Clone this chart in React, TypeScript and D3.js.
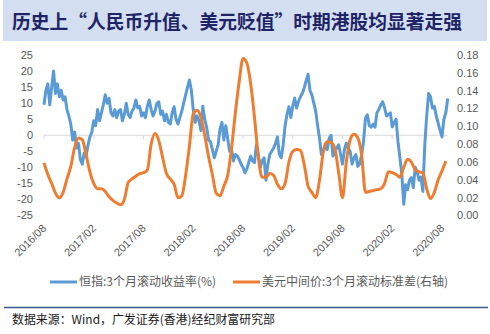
import React from 'react';
import * as d3 from 'd3';

const TITLE = '历史上“人民币升值、美元贬值”时期港股均显著走强';
const SOURCE = '数据来源：Wind，广发证券(香港)经纪财富研究部';
const LEGEND_HSI = '恒指:3个月滚动收益率(%)';
const LEGEND_USD = '美元中间价:3个月滚动标准差(右轴)';

const xTickLabels = ['2016/08', '2017/02', '2017/08', '2018/02', '2018/08', '2019/02', '2019/08', '2020/02', '2020/08'];
const leftTicks = [25, 20, 15, 10, 5, 0, -5, -10, -15, -20, -25];
const rightTicks = [0.18, 0.16, 0.14, 0.12, 0.1, 0.08, 0.06, 0.04, 0.02, 0];

// weekly values from 2016/08 (week 0)
const hsiReturn = [
  9.5, 14, 16, 9.5, 15, 20, 13, 16, 12, 14,
  11, 12, 8, 6, 3.5, -1.5, 1, -4, -2.5, -7.5,
  -9, -5.5, -6.5, -3, -0.5, 1, 4.5, 3, 8, 4.5,
  7, 9.5, 12.6, 10, 11.5, 7, 6, 8, 5.5, 7.5,
  8, 4.5, 6.5, 10, 6.5, 5.5, 7.5, 8.5, 11, 8.5,
  9, 6, 7, 5.5, 9, 11, 8, 6, 7.5, 10,
  10.4, 6.5, 7.5, 4.5, 6.5, 4, 3.5, 7, 8.9, 5,
  3.5, 5.5, 7.5, 10, 12.5, 15, 17.2, 14, 8, 4,
  6, 4.5, 1.5, 9, 5, 2.5, -1.5, -2, -4.5, -7,
  -5, -3, 2, 4, -1.5, 3, -1, -5, -4.5, -8,
  -6, -6.5, -7.5, -9, -10, -11.7, -10.5, -8.5, -6.5, -8,
  -8.5, -3, -6, -10, -8, -7, -14, -9, -6, -5,
  -4, -2.5, -0.5, -6, -7, -3, 3, 6.5, 8.9, 5.5,
  9, 11.6, 8.5, 10.5, 12, 13, 14.8, 17, 19, 14,
  12.6, 10, 7.5, 3, -1, -6, -5, -3, -4.5, -1,
  0, -6.5, -5, -4, -3, -6, -9, -4.5, -2.5, -4,
  -5, -9, -7, -6, -9.7, -9, -6, -2, 5.4, 6.4,
  3, 2.5, 3.5, 2.5, 7, 8, 9.5, 10.4, 8.5, 6,
  6.5, 7, 2.6, 4, 5, -2, -7, -12, -21.5, -15.4,
  -17, -14, -13.2, -16.3, -10, -11.3, -14, -13, -17.5, -3,
  6, 13, 12, 8.5, 9, 6, 3.8, 1.5, -0.5, 5,
  7, 11.5,
];

// bi-weekly values from 2016/08
const usdCnyStd = [
  0.059, 0.046, 0.036, 0.025, 0.020, 0.026, 0.041, 0.055, 0.076, 0.087,
  0.085, 0.068, 0.049, 0.036, 0.030, 0.030, 0.027, 0.021, 0.017, 0.014,
  0.012, 0.018, 0.037, 0.041, 0.044, 0.047, 0.048, 0.051, 0.080, 0.092,
  0.084, 0.065, 0.047, 0.041, 0.035, 0.020, 0.022, 0.045, 0.078, 0.114,
  0.118, 0.110, 0.090, 0.066, 0.046, 0.025, 0.022, 0.033, 0.045, 0.075,
  0.115, 0.150, 0.176, 0.171, 0.148, 0.110, 0.066, 0.043, 0.043, 0.047,
  0.045, 0.035, 0.030, 0.036, 0.060, 0.072, 0.074, 0.073, 0.057, 0.033,
  0.026, 0.020, 0.040, 0.072, 0.083, 0.082, 0.075, 0.048, 0.020, 0.060,
  0.085, 0.091, 0.087, 0.068, 0.026, 0.027, 0.028, 0.029, 0.030, 0.036,
  0.049, 0.048, 0.046, 0.043, 0.054, 0.063, 0.060, 0.051, 0.049, 0.048,
  0.030, 0.019, 0.026, 0.040, 0.050, 0.061,
];

const W = 490;
const H = 334;
const BLUE = '#5b9bd5';
const ORANGE = '#ed7d31';
const AXIS_TEXT = '#595959';

export default function App() {
  const x = d3.scaleLinear().domain([0, 208]).range([44, 442]);
  const yL = d3.scaleLinear().domain([-25, 25]).range([215.5, 55]);
  const yR = d3.scaleLinear().domain([0, 0.18]).range([215.5, 55]);

  const blueLine = d3
    .line<number>()
    .x((_, i) => x(i))
    .y((d) => yL(d))(hsiReturn) as string;
  const orangeLine = d3
    .line<number>()
    .x((_, j) => x(j * 2))
    .y((d) => yR(d))
    .curve(d3.curveMonotoneX)(usdCnyStd) as string;

  const y0 = yL(0);
  const xEnd = x(hsiReturn.length - 1);

  return (
    <svg width={W} height={H} style={{ position: 'absolute', left: 0, top: 0, background: '#fff' }}
      fontFamily="'Liberation Sans', Arial, sans-serif">
      <rect x={0} y={0} width={W} height={H} fill="#fff" />
      <rect x={3} y={0} width={484} height={41} fill="#d3dff1" />
      <text x={12} y={29} fontSize={19} fontWeight="bold" fill="#1f2466"
        fontFamily="'Noto Sans CJK SC', sans-serif" textLength={450} lengthAdjust="spacingAndGlyphs">{TITLE}</text>

      {/* x axis line */}
      <line x1={x(0)} x2={xEnd} y1={y0} y2={y0} stroke="#d9d9d9" strokeWidth={1} />
      {xTickLabels.map((lab, k) => (
        <g key={lab}>
          <line x1={x(k * 26)} x2={x(k * 26)} y1={y0} y2={y0 + 4} stroke="#d9d9d9" />
          <text transform={`translate(${x(k * 26) + 3},${229}) rotate(-45)`} textAnchor="end"
            fontSize={11} fill={AXIS_TEXT}>{lab}</text>
        </g>
      ))}

      {leftTicks.map((t) => (
        <text key={'l' + t} x={33} y={yL(t)} dy="0.35em" textAnchor="end" fontSize={11} fill={AXIS_TEXT}>{t}</text>
      ))}
      {rightTicks.map((t) => (
        <text key={'r' + t} x={457} y={yR(t)} dy="0.35em" textAnchor="start" fontSize={11} fill={AXIS_TEXT}>{t.toFixed(2)}</text>
      ))}

      <path d={blueLine} fill="none" stroke={BLUE} strokeWidth={3} strokeLinejoin="round" />
      <path d={orangeLine} fill="none" stroke={ORANGE} strokeWidth={3} strokeLinejoin="round" />

      {/* legend */}
      <line x1={50} x2={77} y1={282} y2={282} stroke={BLUE} strokeWidth={3} />
      <text x={79} y={282} dy="0.35em" fontSize={12} fill={AXIS_TEXT} fontFamily="'Noto Sans CJK SC', sans-serif">{LEGEND_HSI}</text>
      <line x1={233} x2={260} y1={282} y2={282} stroke={ORANGE} strokeWidth={3} />
      <text x={262} y={282} dy="0.35em" fontSize={12} fill={AXIS_TEXT} fontFamily="'Noto Sans CJK SC', sans-serif">{LEGEND_USD}</text>

      <line x1={4} x2={488} y1={307.5} y2={307.5} stroke="#3d5a8c" strokeWidth={1.5} />
      <text x={12} y={324} fontSize={12} fill="#1a1a1a" fontFamily="'Noto Sans CJK SC', sans-serif"
        textLength={263} lengthAdjust="spacingAndGlyphs">{SOURCE}</text>
    </svg>
  );
}
